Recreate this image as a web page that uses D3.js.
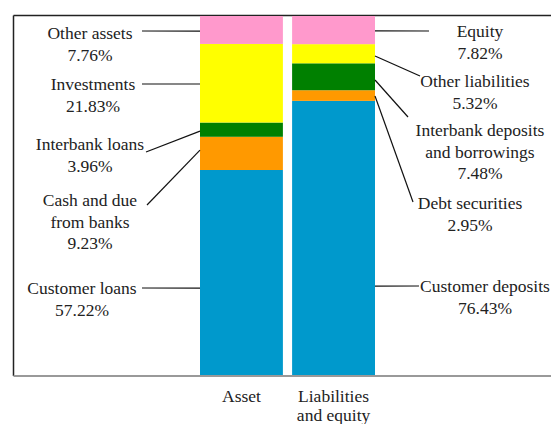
<!DOCTYPE html>
<html>
<head>
<meta charset="utf-8">
<script src="https://cdn.jsdelivr.net/npm/d3@7"></script>
<style>
  body { margin: 0; background: #fff; }
</style>
</head>
<body>
<div id="chart"></div>
<script>
// categories (bottom to top)
const segments = ["s1", "s2", "s3", "s4", "s5"];
const columns = ["Asset", "Liabilities and equity"];
const colLines = [["Asset"], ["Liabilities", "and equity"]];
const colors = ["#0099CC", "#FF9900", "#008000", "#FFFF00", "#FF99CC"];

// values, bottom to top
const assetNames = ["Customer loans", "Cash and due from banks", "Interbank loans", "Investments", "Other assets"];
const assetValues = [57.22, 9.23, 3.96, 21.83, 7.76];
const liabNames = ["Customer deposits", "Debt securities", "Interbank deposits and borrowings", "Other liabilities", "Equity"];
const liabValues = [76.43, 2.95, 7.48, 5.32, 7.82];

// label text lines and placement (layout only)
const assetLabels = [
  { lines: ["Customer loans", "57.22%"], tx: 82, ty: 288, lx: 142, ly: 288, attach: 0.427 },
  { lines: ["Cash and due", "from banks", "9.23%"], tx: 90, ty: 200, lx: 147, ly: 205, attach: 0.6 },
  { lines: ["Interbank loans", "3.96%"], tx: 90, ty: 144, lx: 146, ly: 152, attach: 0.4 },
  { lines: ["Investments", "21.83%"], tx: 93, ty: 84, lx: 142, ly: 84, attach: 0.49 },
  { lines: ["Other assets", "7.76%"], tx: 90, ty: 33, lx: 142, ly: 31, attach: 0.46 }
];
const liabLabels = [
  { lines: ["Customer deposits", "76.43%"], tx: 485, ty: 286, lx: 419, ly: 286, attach: 0.327 },
  { lines: ["Debt securities", "2.95%"], tx: 470, ty: 203, lx: 413, ly: 202, attach: 0.46 },
  { lines: ["Interbank deposits", "and borrowings", "7.48%"], tx: 480, ty: 130, lx: 408, ly: 117, attach: 0.38 },
  { lines: ["Other liabilities", "5.32%"], tx: 475, ty: 81, lx: 420, ly: 76, attach: 0.385 },
  { lines: ["Equity", "7.82%"], tx: 480, ty: 31, lx: 429, ly: 31, attach: 0.47 }
];

const W = 551, H = 424;
const frame = { left: 13.5, top: 15.5, bottom: 376 };
const serif = '"Liberation Serif", "Times New Roman", serif';
const fontSize = '17.5px';
const lineGap = 21.5;

const svg = d3.select('#chart')
  .append('svg')
  .attr('width', W)
  .attr('height', H);

const table = [
  Object.fromEntries(segments.map((s, i) => [s, assetValues[i]])),
  Object.fromEntries(segments.map((s, i) => [s, liabValues[i]]))
];
table[0].col = columns[0];
table[1].col = columns[1];

const stacked = d3.stack().keys(segments)(table);

const x = d3.scaleBand()
  .domain(columns)
  .range([200, 375])
  .paddingInner(0.1)
  .paddingOuter(0);

const y = d3.scaleLinear()
  .domain([0, 100])
  .range([376, 16]);

// frame
svg.append('line')
  .attr('x1', frame.left).attr('x2', W)
  .attr('y1', frame.top).attr('y2', frame.top)
  .attr('stroke', '#222').attr('stroke-width', 1.5);
svg.append('line')
  .attr('x1', frame.left).attr('x2', frame.left)
  .attr('y1', frame.top).attr('y2', frame.bottom)
  .attr('stroke', '#222').attr('stroke-width', 1.5);

// bars
svg.append('g')
  .selectAll('g')
  .data(stacked)
  .enter()
  .append('g')
  .attr('fill', (d, i) => colors[i])
  .selectAll('rect')
  .data(d => d)
  .enter()
  .append('rect')
  .attr('x', d => x(d.data.col))
  .attr('width', x.bandwidth())
  .attr('y', d => y(d[1]))
  .attr('height', d => y(d[0]) - y(d[1]));

// bottom axis line
svg.append('line')
  .attr('x1', frame.left).attr('x2', W)
  .attr('y1', frame.bottom).attr('y2', frame.bottom)
  .attr('stroke', '#999').attr('stroke-width', 2);

// x axis labels
const xAxis = svg.append('g')
  .attr('transform', `translate(0, ${frame.bottom})`)
  .call(d3.axisBottom(x).tickSize(0).tickFormat(''));
xAxis.select('.domain').remove();
xAxis.selectAll('.tick').each(function(d, i) {
  const t = d3.select(this).append('text')
    .attr('text-anchor', 'middle')
    .style('font-family', serif)
    .style('font-size', fontSize)
    .style('fill', '#222')
    .attr('y', 26);
  colLines[i].forEach((ln, j) => {
    t.append('tspan').attr('x', 0).attr('dy', j === 0 ? 0 : 19).text(ln);
  });
});

// labels with leader lines
function drawLabels(labels, colIdx, side) {
  labels.forEach((lab, i) => {
    const seg = stacked[i][colIdx];
    const by = y(seg[0]) - (y(seg[0]) - y(seg[1])) * lab.attach;
    const bx = side === 'left' ? x(columns[colIdx]) : x(columns[colIdx]) + x.bandwidth();
    svg.append('line')
      .attr('x1', lab.lx).attr('y1', lab.ly)
      .attr('x2', bx).attr('y2', by)
      .attr('stroke', '#111').attr('stroke-width', 1.2);
    const t = svg.append('text')
      .attr('text-anchor', 'middle')
      .style('font-family', serif)
      .style('font-size', fontSize)
      .style('fill', '#222')
      .attr('y', lab.ty + 6);
    lab.lines.forEach((ln, j) => {
      t.append('tspan').attr('x', lab.tx).attr('dy', j === 0 ? 0 : lineGap).text(ln);
    });
  });
}
drawLabels(assetLabels, 0, 'left');
drawLabels(liabLabels, 1, 'right');
</script>
</body>
</html>
